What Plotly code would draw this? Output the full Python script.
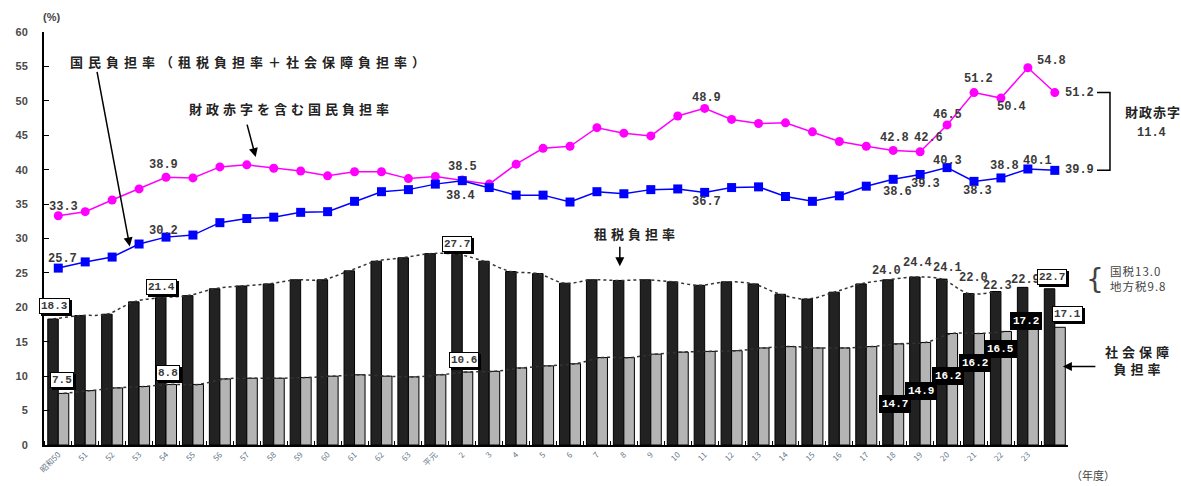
import plotly.graph_objects as go

# Fiscal years (Showa 50 .. Heisei 24); the last year carries no tick label
years = ["昭和50", "51", "52", "53", "54", "55", "56", "57", "58", "59", "60", "61", "62", "63",
         "平元", "2", "3", "4", "5", "6", "7", "8", "9", "10", "11", "12", "13", "14", "15",
         "16", "17", "18", "19", "20", "21", "22", "23", ""]

# 租税負担率 (%)
tax = [18.3, 18.8, 19.0, 20.8, 21.4, 21.7, 22.7, 23.1, 23.4, 24.0, 24.0, 25.3, 26.7, 27.2,
       27.8, 27.7, 26.7, 25.2, 24.9, 23.5, 24.0, 23.9, 24.0, 23.7, 23.2, 23.7, 23.4, 21.9,
       21.2, 22.2, 23.4, 24.0, 24.4, 24.1, 22.0, 22.3, 22.9, 22.7]

# 社会保障負担率 (%)
social = [7.5, 7.9, 8.3, 8.5, 8.8, 8.8, 9.6, 9.7, 9.7, 9.8, 10.0, 10.2, 10.0, 9.9,
          10.2, 10.6, 10.7, 11.2, 11.5, 11.8, 12.7, 12.7, 13.2, 13.5, 13.6, 13.7, 14.1, 14.3,
          14.1, 14.1, 14.3, 14.7, 14.9, 16.2, 16.2, 16.5, 17.2, 17.1]

# 国民負担率 (%)
burden = [25.7, 26.6, 27.3, 29.2, 30.2, 30.5, 32.3, 32.9, 33.1, 33.8, 33.9, 35.4, 36.8, 37.1,
          37.9, 38.4, 37.4, 36.3, 36.3, 35.3, 36.8, 36.5, 37.1, 37.2, 36.7, 37.4, 37.5, 36.1,
          35.4, 36.2, 37.6, 38.6, 39.3, 40.3, 38.3, 38.8, 40.1, 39.9]

# 財政赤字を含む国民負担率 (%)
burden_deficit = [33.3, 33.9, 35.6, 37.2, 38.9, 38.8, 40.4, 40.7, 40.2, 39.8, 39.1, 39.7, 39.7,
                  38.7, 39.0, 38.5, 37.9, 40.8, 43.1, 43.4, 46.1, 45.3, 44.9, 47.8, 48.9, 47.3,
                  46.7, 46.8, 45.5, 44.1, 43.4, 42.8, 42.6, 46.5, 51.2, 50.4, 54.8, 51.2]

national_tax = 13.0
local_tax = 9.8
deficit = 11.4

x = list(range(len(years)))

NUM_FONT = "Liberation Mono"
JP_FONT = "Noto Sans CJK JP"


def fmt(v):
    return f"{v:.1f}"


fig = go.Figure()

fig.add_bar(x=x, y=tax, marker=dict(color="#222222", line=dict(color="#000000", width=1)),
            offsetgroup="tax", hoverinfo="skip")
fig.add_bar(x=x, y=social, marker=dict(color="#b4b4b4", line=dict(color="#000000", width=1)),
            offsetgroup="social", hoverinfo="skip")

# dotted envelopes over the bar tops
n_env = 36
fig.add_scatter(x=[i - 0.195 for i in x[:n_env]], y=tax[:n_env], mode="lines",
                line=dict(color="#333333", width=1.5, dash="dot", shape="spline"), hoverinfo="skip")
fig.add_scatter(x=[i + 0.195 for i in x[:n_env]], y=social[:n_env], mode="lines",
                line=dict(color="#333333", width=1.5, dash="dot", shape="spline"), hoverinfo="skip")

fig.add_scatter(x=x, y=burden_deficit, mode="lines+markers",
                line=dict(color="#ff00ff", width=1.5),
                marker=dict(symbol="circle", size=9, color="#ff00ff"), hoverinfo="skip")
fig.add_scatter(x=x, y=burden, mode="lines+markers",
                line=dict(color="#0000ff", width=1.5),
                marker=dict(symbol="square", size=9, color="#0000ff"), hoverinfo="skip")

ann = []
NUM = dict(family=NUM_FONT, size=12, color="#3a3a3a", weight="bold")


def num_label(i, series, dx, dy, style="plain"):
    v = series[i]
    base = dict(x=i, y=v, xref="x", yref="y", text=fmt(v), showarrow=False,
                xshift=dx, yshift=dy, font=NUM)
    if style == "box":
        shadow = dict(base, xshift=dx + 2, yshift=dy - 2, bgcolor="#000000",
                      font=dict(NUM, size=11, color="#000000"),
                      borderpad=1, bordercolor="#000000", borderwidth=1)
        ann.append(shadow)
        base.update(bgcolor="#ffffff", bordercolor="#000000", borderwidth=1, borderpad=1,
                    font=dict(NUM, size=11))
    elif style == "dark":
        base.update(bgcolor="#000000", bordercolor="#000000", borderwidth=1, borderpad=2,
                    font=dict(NUM, size=11, color="#ffffff"))
    ann.append(base)


# line labels: (index, dx, dy)
for i, dx, dy in [(0, 5, 9), (4, -3, 12), (15, 0, 13), (24, 2, 10), (31, 1, 12), (32, 8, 14),
                  (33, 0, 10), (34, 4, 14), (35, 11, -9), (36, 24, 7), (37, 25, 0)]:
    num_label(i, burden_deficit, dx, dy)
for i, dx, dy in [(0, 4, 9), (4, -3, 6), (15, -2, -15), (24, 2, -10), (31, 4, -13), (32, 5, -10),
                  (33, 0, 7), (34, 3, -10), (35, 4, 12), (36, 10, 8), (37, 25, 0)]:
    num_label(i, burden, dx, dy)

# bar labels
for i, dx, dy in [(31, -7, 9), (32, -3, 14), (33, 0, 11), (34, -1, 16), (35, -3, 6), (36, -2, 7)]:
    num_label(i, tax, dx, dy)
for i, dx, dy in [(0, -4, 13), (4, -5, 11), (15, -5, 10), (37, -3, 12)]:
    num_label(i, tax, dx, dy, "box")
for i, dx, dy in [(0, 4, 13), (4, 2, 11), (15, 2, 12), (37, 13, 13)]:
    num_label(i, social, dx, dy, "box")
for i, dx, dy in [(31, 2, -60), (32, 1, -49), (33, 1, -43), (34, 1, -30), (35, 0, -18), (36, -2, 6)]:
    num_label(i, social, dx, dy, "dark")


def jp(text, spacing=4):
    return f'<span style="letter-spacing:{spacing}px">{text}</span>'


JP = dict(family=JP_FONT, size=13, color="#222222", weight="bold")
SMALL_JP = dict(family=JP_FONT, size=11, color="#444444")

# callout texts
ann += [
    dict(x=0.0234, y=55.7, xref="paper", yref="y", xanchor="left", yanchor="middle",
         showarrow=False, text=jp("国民負担率（租税負担率＋社会保障負担率）", spacing=5), font=JP),
    dict(x=0.1396, y=48.9, xref="paper", yref="y", xanchor="left", yanchor="middle",
         showarrow=False, text=jp("財政赤字を含む国民負担率", spacing=4), font=JP),
    dict(x=0.535, y=30.7, xref="paper", yref="y", xanchor="left", yanchor="middle",
         showarrow=False, text=jp("租税負担率", spacing=4), font=JP),
    dict(x=1.069, y=12.4, xref="paper", yref="y", xanchor="center", yanchor="middle",
         showarrow=False, text=jp("社会保障", spacing=4) + "<br>" + jp("負担率", spacing=4),
         font=JP),
    dict(x=1.0537, y=48.5, xref="paper", yref="y", xanchor="left", yanchor="middle",
         showarrow=False, text=jp("財政赤字", spacing=1), font=dict(JP, size=13)),
    dict(x=1.082, y=45.4, xref="paper", yref="y", xanchor="center", yanchor="middle",
         showarrow=False, text=fmt(deficit), font=NUM),
    dict(x=1.0264, y=24.1, xref="paper", yref="y", xanchor="center", yanchor="middle",
         showarrow=False, text="{",
         font=dict(family="DejaVu Sans", size=28, color="#444444", weight="normal")),
    dict(x=1.039, y=24.15, xref="paper", yref="y", xanchor="left", yanchor="middle",
         align="left", showarrow=False,
         text=jp("国税" + fmt(national_tax), spacing=1) + "<br>"
              + jp("地方税" + fmt(local_tax), spacing=1),
         font=dict(SMALL_JP, size=11.5)),
    dict(x=0.0078, y=1.036, xref="paper", yref="paper", xanchor="center", yanchor="middle",
         showarrow=False, text="(%)",
         font=dict(family="Liberation Sans", size=11, color="#444444", weight="bold")),
    dict(x=1.024, y=-0.072, xref="paper", yref="paper", xanchor="center", yanchor="middle",
         showarrow=False, text="（年度）", font=SMALL_JP),
]

# arrows
arrow = dict(text="", showarrow=True, arrowhead=2, arrowsize=1.2, arrowwidth=1.5,
             arrowcolor="#000000", standoff=0)
ann += [
    dict(arrow, x=2.655, y=28.85, xref="x", yref="y", ax=-33, ay=-176),
    dict(arrow, x=7.33, y=41.83, xref="x", yref="y", ax=-9, ay=-34),
    dict(arrow, x=20.85, y=25.96, xref="x", yref="y", ax=0, ay=-21),
    dict(arrow, x=0.995, y=11.4, xref="paper", yref="y", ax=34, ay=0),
]

# bracket spanning the deficit gap
bx1, bx2 = 1.0283, 1.0410
fig.add_shape(type="path", xref="paper", yref="y",
              path=f"M {bx1},{burden_deficit[-1]} L {bx2},{burden_deficit[-1]} "
                   f"L {bx2},{burden[-1]} L {bx1},{burden[-1]}",
              line=dict(color="#000000", width=1.5))

fig.update_layout(
    width=1181, height=486,
    margin=dict(l=44, r=113, t=32, b=38),
    paper_bgcolor="#ffffff", plot_bgcolor="#ffffff",
    barmode="group", bargap=0.22, bargroupgap=0,
    showlegend=False,
    annotations=ann,
    xaxis=dict(range=[-0.53, 37.49], tickmode="array", tickvals=x, ticktext=years,
               tickangle=-45, tickfont=dict(family=JP_FONT, size=8, color="#667788"),
               ticks="", showline=True, linecolor="#000000", linewidth=2, showgrid=False,
               zeroline=False, fixedrange=True,
               minor=dict(ticks="inside", tick0=0.5, dtick=1, ticklen=4, tickcolor="#000000",
                          tickwidth=1, showgrid=False)),
    yaxis=dict(range=[0, 60], dtick=5, showline=True, linecolor="#000000", linewidth=2,
               ticks="inside", ticklen=5, tickcolor="#000000", showgrid=False, zeroline=False,
               tickfont=dict(family="Liberation Sans", size=11, color="#4a4a4a", weight="bold"),
               ticklabelstandoff=12, fixedrange=True),
)

fig.write_html("out.html")
